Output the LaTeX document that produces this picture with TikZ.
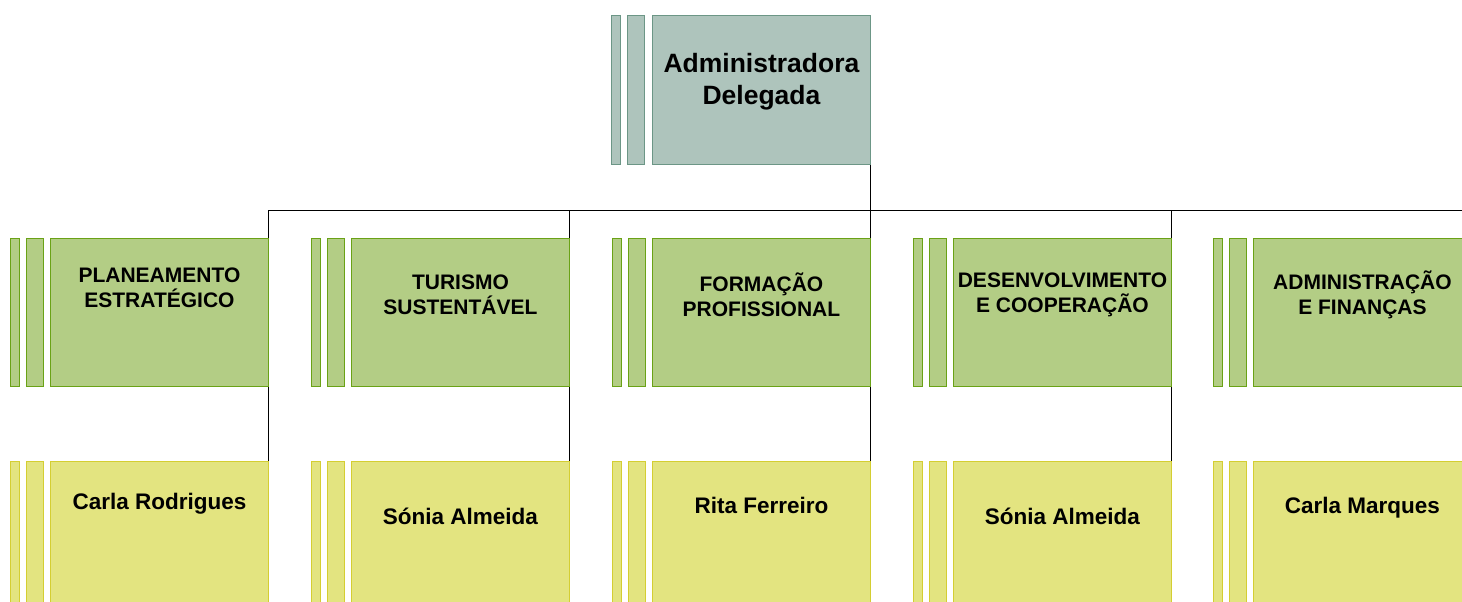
\documentclass[tikz,border=0pt]{standalone}
\usepackage{fontspec}
\setmainfont{Liberation Sans}
\usetikzlibrary{backgrounds}

\definecolor{topfill}{RGB}{174,196,188}
\definecolor{topline}{RGB}{108,150,134}
\definecolor{unitfill}{RGB}{179,205,133}
\definecolor{unitline}{RGB}{106,162,22}
\definecolor{namefill}{RGB}{227,228,128}
\definecolor{nameline}{RGB}{212,206,50}

\tikzset{
	box/.style={draw, line width=0.9pt, inner sep=0pt, anchor=north west, minimum width=218pt, minimum height=148pt},
	topbox/.style={box, fill=topfill, draw=topline, minimum height=149pt},
	unitbox/.style={box, fill=unitfill, draw=unitline},
	namebox/.style={box, fill=namefill, draw=nameline},
	topstrip/.style={fill=topfill, draw=topline, line width=0.8pt},
	unitstrip/.style={fill=unitfill, draw=unitline, line width=0.8pt},
	namestrip/.style={fill=namefill, draw=nameline, line width=0.8pt},
	boxtext/.style={font=\bfseries, align=center, inner sep=0pt},
	wire/.style={line width=0.9pt, black},
}

\begin{document}
\begin{tikzpicture}[x=1pt, y=-1pt]
	\useasboundingbox (0,0) rectangle (1462,602);

	% top
	\draw[topstrip] (611,15) rectangle (620,164);
	\draw[topstrip] (627,15) rectangle (644,164);
	\node[topbox] (ad) at (652,15) {};
	\node[boxtext, font=\bfseries\fontsize{26.5}{32}\selectfont] (adT) at ([yshift=-67pt]ad.north) {Administradora\\Delegada};

	% side strips
	\foreach \l in {50,351,652,953,1253} {
		\draw[unitstrip] (\l-40,238) rectangle (\l-31,386);
		\draw[unitstrip] (\l-24,238) rectangle (\l-7,386);
		\draw[namestrip] (\l-40,461) rectangle (\l-31,620);
		\draw[namestrip] (\l-24,461) rectangle (\l-7,620);
	}

	% units
	\node[unitbox] (plan) at (50,238) {};
	\node[unitbox] (tur) at (351,238) {};
	\node[unitbox] (form) at (652,238) {};
	\node[unitbox] (dev) at (953,238) {};
	\node[unitbox] (adm) at (1253,238) {};

	\tikzset{unittext/.style={boxtext, font=\bfseries\fontsize{21}{25}\selectfont}}
	\node[unittext] (planT) at ([yshift=-50pt]plan.north) {PLANEAMENTO\\ESTRATÉGICO};
	\node[unittext] (turT) at ([yshift=-57pt]tur.north) {TURISMO\\SUSTENTÁVEL};
	\node[unittext] (formT) at ([yshift=-57pt]form.north) {FORMAÇÃO\\PROFISSIONAL};
	\node[unittext] (devT) at ([yshift=-57pt]dev.north) {DESENVOLVIMENTO\\E COOPERAÇÃO};
	\node[unittext] (admT) at ([yshift=-57pt]adm.north) {ADMINISTRAÇÃO\\E FINANÇAS};

	% names
	\node[namebox] (planN) at (50,461) {};
	\node[namebox] (turN) at (351,461) {};
	\node[namebox] (formN) at (652,461) {};
	\node[namebox] (devN) at (953,461) {};
	\node[namebox] (admN) at (1253,461) {};

	\tikzset{nametext/.style={boxtext, font=\bfseries\fontsize{22.5}{27}\selectfont}}
	\node[nametext] (planNT) at ([yshift=-43pt]planN.north) {Carla Rodrigues};
	\node[nametext] (turNT) at ([yshift=-55pt]turN.north) {Sónia Almeida};
	\node[nametext] (formNT) at ([yshift=-44pt]formN.north) {Rita Ferreiro};
	\node[nametext] (devNT) at ([yshift=-55pt]devN.north) {Sónia Almeida};
	\node[nametext] (admNT) at ([yshift=-47pt]admN.north) {Carla Marques};

	% connectors behind the boxes
	\begin{pgfonlayer}{background}
		\coordinate (busR) at (1471,210);
		\draw[wire] (ad.south east) -- (ad.south east |- busR);
		\draw[wire] (plan.north east |- busR) -- (busR);
		\foreach \u/\n in {plan/planN, tur/turN, form/formN, dev/devN, adm/admN}
			\draw[wire] (\u.north east |- busR) -- (\n.north east);
	\end{pgfonlayer}
\end{tikzpicture}
\end{document}
